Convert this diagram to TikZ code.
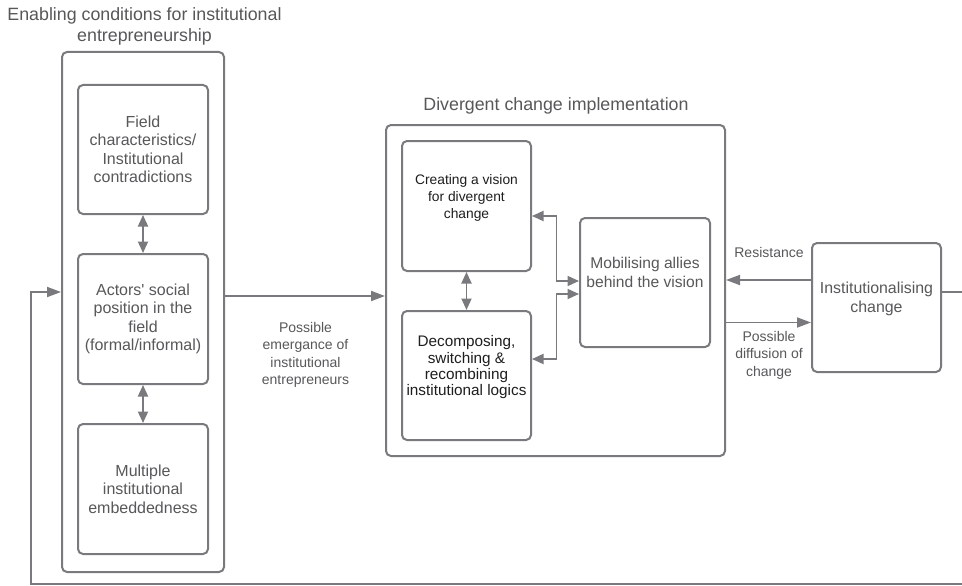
\documentclass[tikz,border=0pt]{standalone}
\usepackage{fontspec}
\setmainfont{Liberation Sans}
\usetikzlibrary{arrows.meta}
\definecolor{linegrey}{RGB}{122,122,126}
\definecolor{textgrey}{RGB}{88,88,90}
\definecolor{darktext}{RGB}{30,30,30}
\tikzset{
  box/.style={draw=linegrey, line width=2pt, rounded corners=5pt, rectangle, align=center, text=textgrey, inner sep=0pt},
  bigbox/.style={box},
  boxtext/.style={font=\fontsize{16}{18.5}\selectfont},
  lbl/.style={align=center, text=textgrey, font=\fontsize{14}{17.5}\selectfont},
  ttl/.style={align=center, text=textgrey, font=\fontsize{17.8}{21}\selectfont},
  conn/.style={draw=linegrey, line width=1.8pt},
  arr/.style={conn, -{Triangle[length=14pt,width=10pt]}},
  dbl/.style={conn, {Triangle[length=11.5pt,width=10pt]}-{Triangle[length=11.5pt,width=10pt]}}
}
\begin{document}
\begin{tikzpicture}[x=1pt,y=-1pt]
\useasboundingbox (0,0) rectangle (962,586);
\clip (0,0) rectangle (962,586);
\fill[white] (0,0) rectangle (962,586);

% titles
\node[ttl] (t1) at (144.5,26) {Enabling conditions for institutional\\entrepreneurship};
\node[ttl] (t2) at (556,106) {Divergent change implementation};

% left group
\node[bigbox, minimum width=162pt, minimum height=520pt] (leftbox) at (143,312) {};
\node[box, boxtext, minimum width=130pt, minimum height=129pt] (field) at (143,149.5) {Field\\characteristics/\\Institutional\\contradictions};
\node[box, boxtext, minimum width=130pt, minimum height=130pt] (actors) at (143,319) {Actors\textquotesingle{} social\\position in the\\field\\(formal/informal)};
\node[box, boxtext, minimum width=130pt, minimum height=130pt] (multi) at (143,489) {Multiple\\institutional\\embeddedness};

% divergent group
\node[bigbox, minimum width=339pt, minimum height=331pt] (divbox) at (555.5,290.5) {};
\node[box, text=darktext, font=\fontsize{13.8}{17}\selectfont, minimum width=129pt, minimum height=130pt] (creating) at (466.5,206) {Creating a vision\\for divergent\\change\\[2pt]};
\node[box, text=darktext, font=\fontsize{15.3}{16.3}\selectfont, minimum width=129pt, minimum height=129pt] (decomp) at (466.5,375.5) {Decomposing,\\switching \&\\recombining\\institutional logics\\[3pt]};
\node[box, font=\fontsize{15.6}{19}\selectfont, minimum width=130pt, minimum height=129pt] (mob) at (645,282.5) {Mobilising allies\\behind the vision\\[2pt]};

% institutionalising
\node[box, font=\fontsize{15.9}{19}\selectfont, minimum width=129pt, minimum height=129pt] (inst) at (876.5,307.5) {Institutionalising\\change\\[2pt]};

% labels
\node[lbl] (lemerg) at (305.5,355) {Possible\\emergance of\\institutional\\entrepreneurs};
\node[lbl] (lres) at (769,252.5) {Resistance};
\node[lbl] (ldiff) at (769,355) {Possible\\diffusion of\\change};

% connectors
\draw[dbl] (field.south) -- (actors.north);
\draw[dbl] (actors.south) -- (multi.north);
\draw[dbl] (creating.south) -- (decomp.north);
\draw[dbl] ([yshift=-10pt]creating.east) -- ++(24.5,0) |- ([yshift=1.5pt]mob.west);
\draw[dbl] ([yshift=16.5pt]decomp.east) -- ++(24.5,0) |- ([yshift=-11.5pt]mob.west);
\draw[arr] ([yshift=16pt]leftbox.east) -- ([yshift=16pt]leftbox.east -| divbox.west);
\draw[arr] ([yshift=27.5pt]inst.west) -- ([yshift=27.5pt]inst.west -| divbox.east);
\draw[arr] ([yshift=-15pt]inst.west -| divbox.east) -- ([yshift=-15pt]inst.west);

% feedback loop
\coordinate (loopR) at (970,0);
\coordinate (loopB) at (0,584);
\coordinate (loopL) at (31,0);
\draw[arr] ([yshift=15.5pt]inst.east) -| (loopR |- loopB) -- (loopL |- loopB) |- ([yshift=20pt]leftbox.west);
\end{tikzpicture}
\end{document}
